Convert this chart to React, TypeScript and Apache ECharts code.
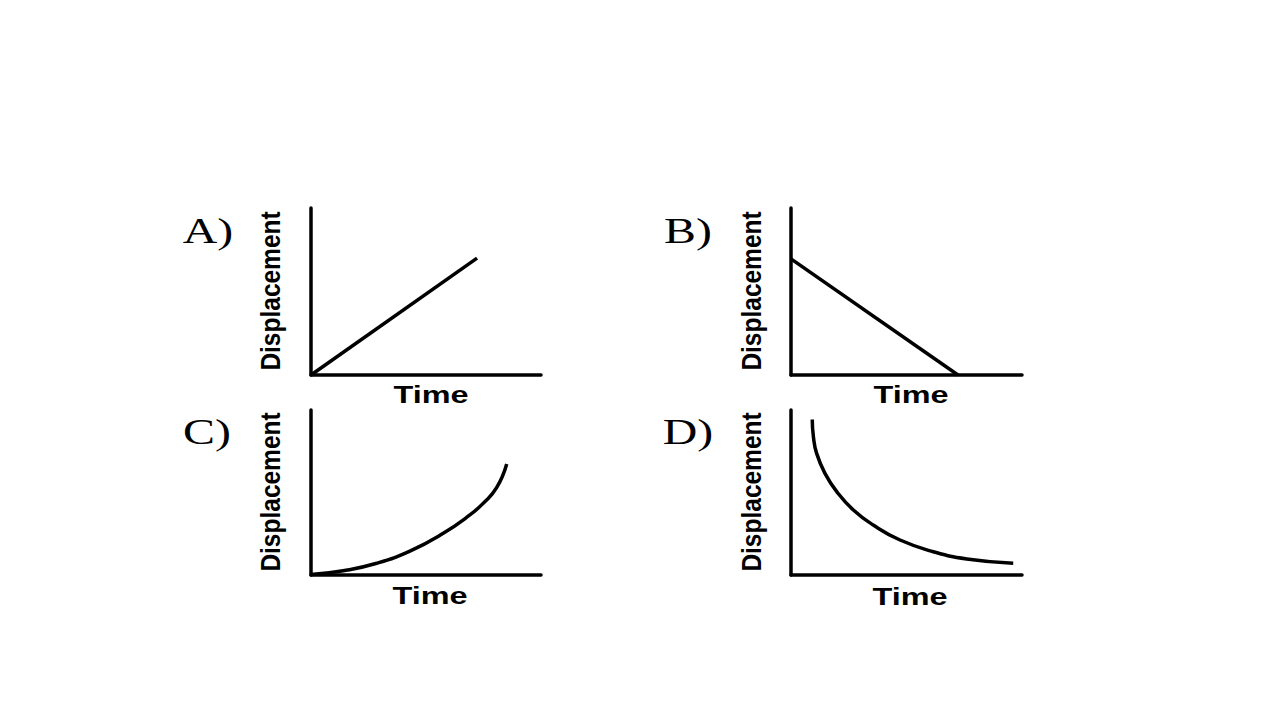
import React, { useEffect, useRef } from "react";
import * as echarts from "echarts";

// Panel A: linear increase
const aTime = [0, 0.722];
const aDisp = [0, 0.7];
// Panel B: linear decrease
const bTime = [0, 0.723];
const bDisp = [0.695, 0];
// Panel C: accelerating increase
const cTime = [0, 0.14, 0.286, 0.43, 0.575, 0.691, 0.749, 0.807, 0.851];
const cDisp = [0.003, 0.026, 0.071, 0.145, 0.253, 0.364, 0.435, 0.529, 0.673];
// Panel D: decaying decrease
const dTime = [0.092, 0.097, 0.111, 0.147, 0.198, 0.27, 0.356, 0.472, 0.616, 0.761, 0.962];
const dDisp = [0.943, 0.838, 0.737, 0.616, 0.505, 0.394, 0.303, 0.212, 0.141, 0.097, 0.071];

const panelLetters = ["A)", "B)", "C)", "D)"];
const xAxisName = "Time";
const yAxisName = "Displacement";

const pairs = (xs: number[], ys: number[]) => xs.map((x, i) => [x, ys[i]]);

export default function App() {
  const ref = useRef<HTMLDivElement>(null);
  useEffect(() => {
    if (!ref.current) return;
    const chart = echarts.init(ref.current, undefined, { renderer: "svg" });
    const grids = [
      { left: 311, top: 208, width: 230, height: 167 },
      { left: 791, top: 208, width: 231, height: 167 },
      { left: 311, top: 410, width: 230, height: 165 },
      { left: 791, top: 410, width: 231, height: 165 },
    ];
    const axisLine = { show: true, onZero: false, lineStyle: { color: "#000", width: 3.5 } };
    const baseAxis = {
      type: "value" as const,
      min: 0,
      max: 1,
      axisLine,
      axisTick: { show: false },
      axisLabel: { show: false },
      splitLine: { show: false },
    };
    const seriesData = [
      { d: pairs(aTime, aDisp), smooth: false },
      { d: pairs(bTime, bDisp), smooth: false },
      { d: pairs(cTime, cDisp), smooth: 0.5 },
      { d: pairs(dTime, dDisp), smooth: 0.5 },
    ];
    const letterPos = [
      [208, 231],
      [688, 231],
      [207, 432],
      [688, 432],
    ];
    const dispPos = [
      [270, 291],
      [751, 291],
      [270, 492],
      [751, 492],
    ];
    const timePos = [
      [431, 395],
      [911, 395],
      [430, 596],
      [910, 597],
    ];
    const graphic: any[] = [];
    for (let i = 0; i < 4; i++) {
      graphic.push({
        type: "text",
        x: letterPos[i][0],
        y: letterPos[i][1],
        scaleX: 1.33,
        style: {
          text: panelLetters[i],
          font: "normal 36px 'Liberation Serif', 'Times New Roman', serif",
          fill: "#000",
          align: "center",
          verticalAlign: "middle",
        },
      });
      graphic.push({
        type: "text",
        x: dispPos[i][0],
        y: dispPos[i][1],
        rotation: Math.PI / 2,
        scaleY: 1.15,
        style: {
          text: yAxisName,
          font: "bold 24.5px 'Liberation Sans', Arial, sans-serif",
          fill: "#000",
          align: "center",
          verticalAlign: "middle",
        },
      });
      graphic.push({
        type: "text",
        x: timePos[i][0],
        y: timePos[i][1],
        scaleX: 1.38,
        style: {
          text: xAxisName,
          font: "bold 23.5px 'Liberation Sans', Arial, sans-serif",
          fill: "#000",
          align: "center",
          verticalAlign: "middle",
        },
      });
    }
    chart.setOption({
      animation: false,
      backgroundColor: "#fff",
      grid: grids,
      xAxis: grids.map((_, i) => ({ ...baseAxis, gridIndex: i })),
      yAxis: grids.map((_, i) => ({ ...baseAxis, gridIndex: i })),
      series: seriesData.map((s, i) => ({
        type: "line",
        xAxisIndex: i,
        yAxisIndex: i,
        data: s.d,
        smooth: s.smooth,
        showSymbol: false,
        clip: false,
        lineStyle: { color: "#000", width: 3.5 },
      })),
      graphic,
    });
    return () => chart.dispose();
  }, []);
  return (
    <div
      ref={ref}
      style={{ position: "fixed", left: 0, top: 0, width: 1280, height: 720, background: "#fff" }}
    />
  );
}
